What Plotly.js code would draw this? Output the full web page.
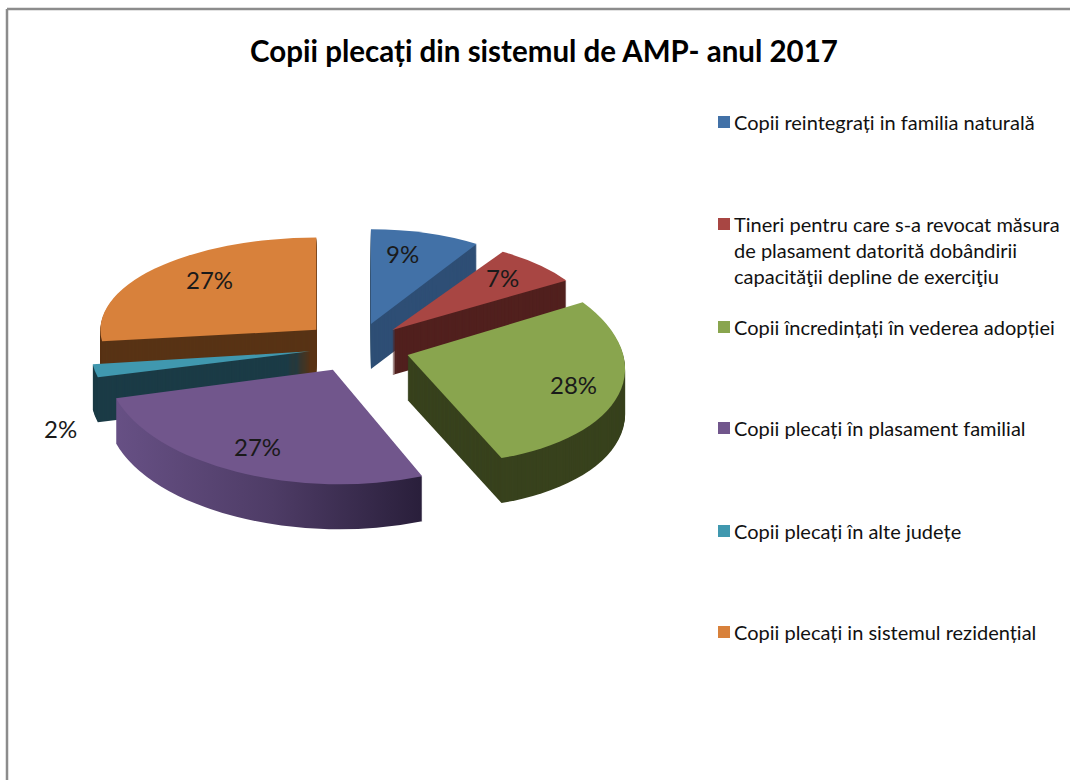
<!DOCTYPE html>
<html><head><meta charset="utf-8">
<script src="https://cdn.plot.ly/plotly-3.0.1.min.js"></script>
<style>html,body{margin:0;padding:0;background:#fff}</style></head>
<body><div id="chart" style="width:1070px;height:780px"></div>
<script>
const titleText = "Copii plecați din sistemul de AMP- anul 2017";
const categories = [
  "Copii reintegrați in familia naturală",
  "Tineri pentru care s-a revocat măsura<br>de plasament datorită dobândirii<br>capacităţii depline de exerciţiu",
  "Copii încredințați în vederea adopției",
  "Copii plecați în plasament familial",
  "Copii plecați în alte județe",
  "Copii plecați in sistemul rezidențial"
];
const values = [9, 7, 28, 27, 2, 27];
const topColors = ["#4271a7", "#a84643", "#89a54e", "#71568c", "#4098af", "#d8813b"];
const wallColors = ["#2e4e75", "#51201e", "#38421d", "#4e3d68", "#1b3b46", "#583315"];

// layout only
const W = 1070, H = 780;
const legendRowY = [122, 224, 327, 428, 531, 632];
const labelX = [402, 502, 573, 257, 61, 209];
const labelY = [254, 277, 384, 447, 428, 279];
const pulls = [0.23, 0.23, 0.245, 0.245, 0.22, 0.25];
// per-slice perspective tweak of the tilted pie: [scaleX, shearX, shearY, scaleY]
const perspective = [
  [0.91, 0, 0, 0.91], [0.95, 0, 0, 0.89], [1, 0.145, 0.03, 1.04],
  [1.04, 0.065, 0, 1.1], [1.01, 0, 0, 1], [0.995, 0, 0, 0.885]
];
const FONT = "Lato, 'Noto Sans', sans-serif";
const R = 217, K = 0.48, CX = 357, CY = 347, DEPTH = 45;
const side = 2 * R * (1 + Math.max(...pulls));

function pieTrace(colors, shift) {
  const cy = H / 2 + shift / K;
  return {
    type: "pie", values: values, labels: categories, sort: false, direction: "clockwise",
    rotation: 0, pull: pulls, textinfo: "none", hoverinfo: "skip", showlegend: false,
    marker: {colors: colors, line: {width: 0}},
    domain: {x: [(CX - side / 2) / W, (CX + side / 2) / W], y: [1 - (cy + side / 2) / H, 1 - (cy - side / 2) / H]}
  };
}
const traces = [];
for (let d = DEPTH; d >= 1; d--) traces.push(pieTrace(wallColors, d));
traces.push(pieTrace(topColors, 0));

const annotations = [];
const shapes = [
  {type: "line", xref: "paper", yref: "paper", x0: 7 / W, x1: 1, y0: 1 - 9 / H, y1: 1 - 9 / H, line: {color: "#8c8c8c", width: 2.5}},
  {type: "line", xref: "paper", yref: "paper", x0: 7 / W, x1: 7 / W, y0: 1 - 9 / H, y1: 0, line: {color: "#8c8c8c", width: 2.5}}
];
categories.forEach((c, i) => {
  annotations.push({xref: "paper", yref: "paper", x: 732 / W, y: 1 - (legendRowY[i] - 14) / H, xanchor: "left", yanchor: "top",
    align: "left", showarrow: false, text: c, font: {family: FONT, size: 20, color: "#111"}});
  shapes.push({type: "rect", xref: "paper", yref: "paper", x0: 718 / W, x1: 730 / W, y0: 1 - (legendRowY[i] + 6) / H, y1: 1 - (legendRowY[i] - 6) / H,
    fillcolor: topColors[i], line: {width: 0}});
  annotations.push({xref: "paper", yref: "paper", x: labelX[i] / W, y: 1 - labelY[i] / H, xanchor: "center", yanchor: "middle",
    showarrow: false, text: values[i] + "%", font: {family: FONT, size: 24, color: "#1a1a1a"}});
});

const layout = {
  width: W, height: H, margin: {l: 0, r: 0, t: 0, b: 0}, paper_bgcolor: "#fff",
  title: {text: titleText, x: 544 / W, xanchor: "center", y: 1 - 52 / H, yanchor: "middle",
    font: {family: FONT, size: 29.5, color: "#000", weight: 700}},
  annotations: annotations, shapes: shapes
};
Plotly.newPlot("chart", traces, layout, {displayModeBar: false, staticPlot: true}).then(() => {
  const svg = document.querySelector("#chart .main-svg");
  const NS = "http://www.w3.org/2000/svg";
  const g = document.createElementNS(NS, "linearGradient");
  g.setAttribute("id", "purpleWall");
  g.setAttribute("gradientUnits", "userSpaceOnUse");
  g.setAttribute("x1", 115); g.setAttribute("x2", 421); g.setAttribute("y1", 0); g.setAttribute("y2", 0);
  [[0, "#685186"], [0.5, "#4e3c66"], [1, "#271d38"]].forEach(s => {
    const st = document.createElementNS(NS, "stop");
    st.setAttribute("offset", s[0]); st.setAttribute("stop-color", s[1]); g.appendChild(st);
  });
  svg.querySelector("defs").appendChild(g);
  const pl = svg.querySelector(".pielayer");
  pl.setAttribute("transform", `translate(0,${CY}) scale(1,${K}) translate(0,${-H / 2})`);
  const groups = Array.from(pl.querySelectorAll(".trace"));
  const lastWall = groups[groups.length - 2];
  const frontWalls = [];
  groups.forEach((tr, t) => {
    Array.from(tr.querySelectorAll(".slice")).forEach((sl, i) => {
      const p = sl.querySelector("path");
      const m = /^M\s*([-\d.e]+)[ ,]+([-\d.e]+)/.exec(p.getAttribute("d"));
      if (m) {
        const ax = +m[1], ay = +m[2], q = perspective[i];
        p.setAttribute("transform",
          `translate(${ax},${ay}) matrix(${q[0]},${q[2] / K},${q[1] * K},${q[3]},0,0) translate(${-ax},${-ay})`);
      }
      if (i === 3 && t < groups.length - 1) {
        p.style.fill = "url(#purpleWall)";
        frontWalls.push(sl);
      }
    });
  });
  frontWalls.forEach(sl => lastWall.appendChild(sl)); // the front wall hides the walls behind it
});
</script></body></html>
